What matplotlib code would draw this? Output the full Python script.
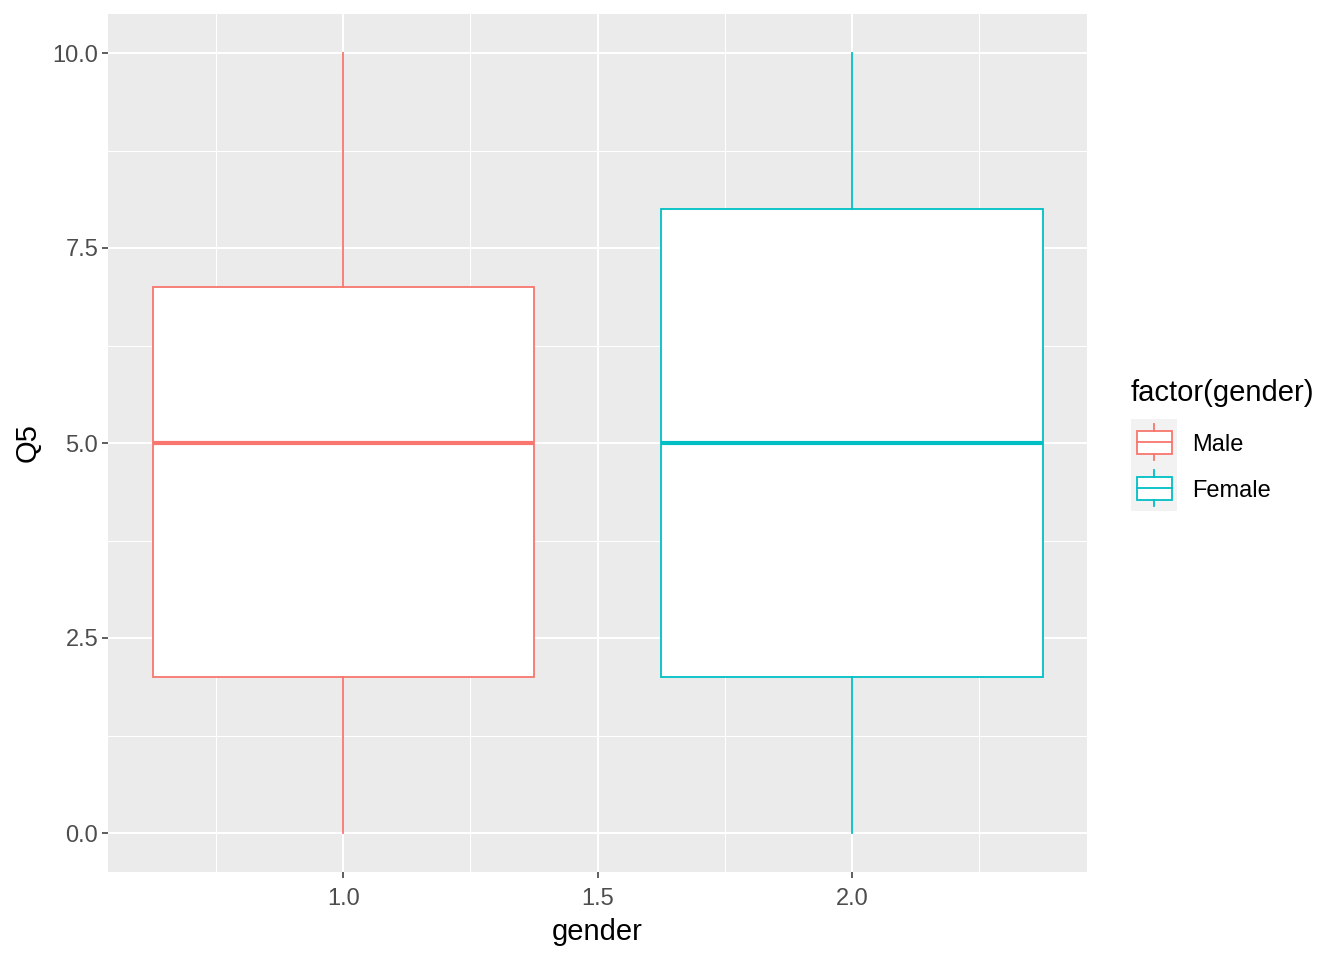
import matplotlib
matplotlib.use("Agg")
import matplotlib.pyplot as plt
from matplotlib.patches import Rectangle

plt.rcParams['font.family'] = ['Liberation Sans', 'DejaVu Sans']

# ---- data ----
groups = ["Male", "Female"]
positions = [1.0, 2.0]
whisker_low = [0, 0]
q1 = [2, 2]
medians = [5, 5]
q3 = [7, 8]
whisker_high = [10, 10]
colors = ["#F8766D", "#00BFC4"]
xticks = [1.0, 1.5, 2.0]
yticks = [0.0, 2.5, 5.0, 7.5, 10.0]

W, H = 1344, 960
fig = plt.figure(figsize=(W / 100, H / 100), dpi=100)
fig.patch.set_facecolor("white")

def px(x0, y0, x1, y1):
    return [x0 / W, 1 - y1 / H, (x1 - x0) / W, (y1 - y0) / H]

ax = fig.add_axes(px(108, 14, 1087, 872))
ax.set_facecolor("#EBEBEB")
for s in ax.spines.values():
    s.set_visible(False)

stats = []
for i, g in enumerate(groups):
    stats.append(dict(label=g, whislo=whisker_low[i], q1=q1[i], med=medians[i],
                      q3=q3[i], whishi=whisker_high[i], fliers=[]))

for i, st in enumerate(stats):
    c = colors[i]
    ax.bxp([st], positions=[positions[i]], widths=0.75, patch_artist=True,
           showcaps=False, showfliers=False, manage_ticks=False,
           boxprops=dict(facecolor="white", edgecolor=c, linewidth=1.3),
           whiskerprops=dict(color=c, linewidth=1.3),
           medianprops=dict(color=c, linewidth=3.0, solid_capstyle="butt"),
           zorder=3)

ax.set_xlim(0.5375, 2.4625)
ax.set_ylim(-0.5, 10.5)
ax.set_xticks(xticks)
ax.set_xticklabels([f"{v:.1f}" for v in xticks])
ax.set_yticks(yticks)
ax.set_yticklabels([f"{v:.1f}" for v in yticks])
ax.set_xticks([0.75, 1.25, 1.75, 2.25], minor=True)
ax.set_yticks([1.25, 3.75, 6.25, 8.75], minor=True)
ax.grid(which="major", color="white", linewidth=1.5, zorder=0)
ax.grid(which="minor", color="white", linewidth=0.75, zorder=0)
ax.set_axisbelow(True)
ax.tick_params(which="major", length=4, width=1.1, color="#333333",
               labelcolor="#4D4D4D", labelsize=17, pad=3)
ax.tick_params(axis="x", which="major", pad=7.5)
ax.tick_params(which="minor", length=0)
ax.set_xlabel("gender", fontsize=21, color="black", labelpad=6)
ax.set_ylabel("Q5", fontsize=21, color="black", labelpad=8)

# ---- legend ----
lax = fig.add_axes(px(1131, 419, 1177, 511))
lax.set_facecolor("#F2F2F2")
for s in lax.spines.values():
    s.set_visible(False)
lax.set_xticks([]); lax.set_yticks([])
lax.set_xlim(0, 1); lax.set_ylim(len(groups), 0)
for i, g in enumerate(groups):
    c = colors[i]
    lax.add_patch(Rectangle((0.13, i + 0.25), 0.76, 0.5, facecolor="white",
                            edgecolor=c, linewidth=1.3))
    lax.plot([0.13, 0.89], [i + 0.5, i + 0.5], color=c, linewidth=1.3)
    lax.plot([0.51, 0.51], [i + 0.1, i + 0.25], color=c, linewidth=1.3)
    lax.plot([0.51, 0.51], [i + 0.75, i + 0.9], color=c, linewidth=1.3)
    fig.text(1192 / W, 1 - (445 + 46 * i) / H, g, fontsize=17,
             va="center", ha="left", color="black")
fig.text(1131 / W, 1 - 393 / H, "factor(gender)", fontsize=21,
         va="center", ha="left", color="black")

fig.savefig("out.png", dpi=100)
